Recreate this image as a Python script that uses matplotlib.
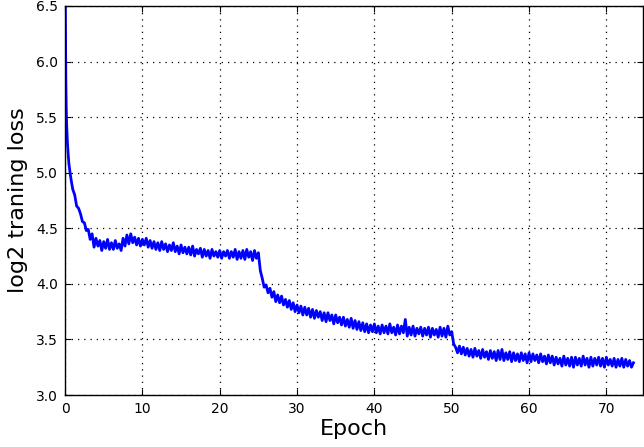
import numpy as np
import matplotlib
matplotlib.use("Agg")
import matplotlib.pyplot as plt

# ---------------------------------------------------------------------------
# Data (read off the reference): log2 training loss per logged step
# ---------------------------------------------------------------------------
# steep start of training, logged densely
head_epochs = [0.0, 0.03, 0.06, 0.1, 0.15, 0.2, 0.3, 0.4, 0.5, 0.65, 0.8]
head_loss = [7.0, 6.6, 6.2, 5.85, 5.6, 5.45, 5.28, 5.17, 5.08, 5.0, 4.93]

# rest of training, one reading every quarter epoch from epoch 1.0
BODY_START = 1.0
BODY_STEP = 0.25
body_loss = [
    4.85, 4.80, 4.70, 4.68, 4.63, 4.56, 4.55, 4.48, 4.49, 4.40, 4.45, 4.33, 4.41, 4.34, 4.39, 4.30, 4.38, 4.32, 4.40, 4.31,
    4.37, 4.31, 4.39, 4.32, 4.36, 4.30, 4.41, 4.34, 4.44, 4.36, 4.45, 4.37, 4.42, 4.35, 4.41, 4.34, 4.40, 4.35, 4.41, 4.33,
    4.39, 4.32, 4.38, 4.31, 4.37, 4.30, 4.38, 4.31, 4.36, 4.29, 4.35, 4.30, 4.37, 4.29, 4.34, 4.27, 4.35, 4.28, 4.33, 4.27,
    4.33, 4.26, 4.34, 4.25, 4.31, 4.27, 4.32, 4.24, 4.31, 4.25, 4.30, 4.23, 4.31, 4.25, 4.29, 4.24, 4.30, 4.23, 4.29, 4.25,
    4.30, 4.23, 4.29, 4.24, 4.31, 4.22, 4.29, 4.23, 4.30, 4.22, 4.31, 4.24, 4.29, 4.21, 4.30, 4.23, 4.28, 4.12, 4.05, 3.97,
    3.99, 3.92, 3.96, 3.88, 3.93, 3.84, 3.90, 3.83, 3.89, 3.81, 3.86, 3.79, 3.85, 3.77, 3.83, 3.75, 3.81, 3.74, 3.80, 3.72,
    3.79, 3.72, 3.78, 3.70, 3.77, 3.69, 3.76, 3.70, 3.75, 3.67, 3.74, 3.66, 3.74, 3.67, 3.72, 3.64, 3.72, 3.65, 3.70, 3.63,
    3.70, 3.62, 3.68, 3.61, 3.69, 3.60, 3.67, 3.59, 3.66, 3.58, 3.65, 3.57, 3.64, 3.56, 3.63, 3.57, 3.64, 3.56, 3.62, 3.55,
    3.63, 3.56, 3.62, 3.55, 3.64, 3.56, 3.61, 3.54, 3.63, 3.55, 3.62, 3.56, 3.68, 3.53, 3.61, 3.54, 3.62, 3.53, 3.60, 3.55,
    3.61, 3.53, 3.60, 3.54, 3.61, 3.52, 3.60, 3.54, 3.59, 3.52, 3.61, 3.53, 3.60, 3.52, 3.62, 3.54, 3.57, 3.46, 3.43, 3.38,
    3.44, 3.37, 3.43, 3.36, 3.42, 3.35, 3.41, 3.34, 3.42, 3.35, 3.40, 3.33, 3.41, 3.34, 3.39, 3.32, 3.40, 3.33, 3.39, 3.31,
    3.40, 3.32, 3.41, 3.31, 3.38, 3.32, 3.39, 3.30, 3.38, 3.31, 3.37, 3.30, 3.38, 3.31, 3.37, 3.29, 3.38, 3.30, 3.37, 3.31,
    3.36, 3.29, 3.37, 3.30, 3.35, 3.28, 3.36, 3.29, 3.35, 3.27, 3.34, 3.28, 3.33, 3.26, 3.35, 3.27, 3.33, 3.26, 3.34, 3.25,
    3.34, 3.27, 3.33, 3.26, 3.35, 3.27, 3.33, 3.25, 3.34, 3.26, 3.33, 3.27, 3.34, 3.26, 3.33, 3.25, 3.34, 3.27, 3.32, 3.26,
    3.33, 3.25, 3.32, 3.26, 3.33, 3.25, 3.32, 3.26, 3.31, 3.25, 3.29,
]

X_TICKS = [0, 10, 20, 30, 40, 50, 60, 70]
Y_TICKS = [3.0, 3.5, 4.0, 4.5, 5.0, 5.5, 6.0, 6.5]

body_epochs = BODY_START + BODY_STEP * np.arange(len(body_loss))
epochs = np.concatenate([head_epochs, body_epochs])
loss = np.concatenate([head_loss, body_loss])

# ---------------------------------------------------------------------------
# Plot
# ---------------------------------------------------------------------------
fig = plt.figure(figsize=(6.44, 4.47), dpi=100)
ax = fig.add_axes([0.101, 0.1163, 0.897, 0.8703])

ax.plot(epochs, loss, color="#0000ff", lw=2.0)

ax.set_xlim(0, 74.7)
ax.set_ylim(3.0, 6.5)
ax.set_xticks(X_TICKS)
ax.set_yticks(Y_TICKS)
ax.set_yticklabels([f"{v:.1f}" for v in Y_TICKS])
ax.tick_params(direction="in", top=True, right=True, length=4, labelsize=10, pad=5)
ax.grid(True, color="black", linestyle=(0, (1, 4)), linewidth=0.9)
for s in ax.spines.values():
    s.set_linewidth(1.0)

ax.set_xlabel("Epoch", fontsize=16, labelpad=2)
ax.set_ylabel("log2 traning loss", fontsize=16, labelpad=6)

fig.savefig("out.png", dpi=100)
